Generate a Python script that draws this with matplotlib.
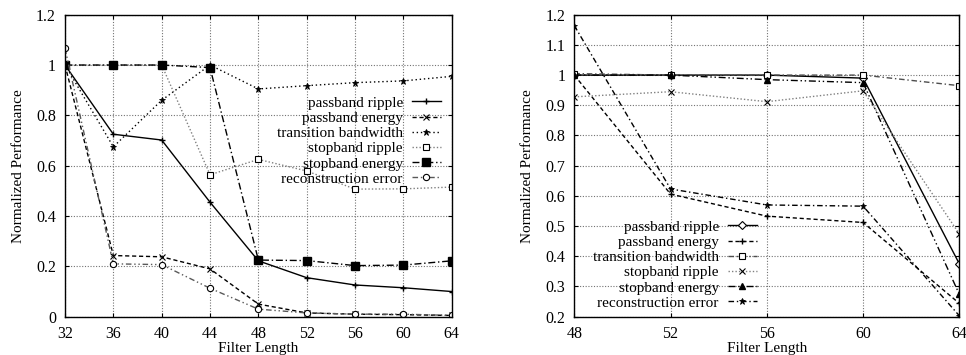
import matplotlib.pyplot as plt

plt.rcParams['font.family'] = ['Liberation Serif', 'DejaVu Serif']
plt.rcParams['font.size'] = 11

labels = ["passband ripple", "passband energy", "transition bandwidth",
          "stopband ripple", "stopband energy", "reconstruction error"]

# left panel
x_left = [32, 36, 40, 44, 48, 52, 56, 60, 64]
pb_ripple_l = [1.0, 0.725, 0.702, 0.455, 0.222, 0.155, 0.126, 0.115, 0.10]
pb_energy_l = [1.0, 0.243, 0.238, 0.19, 0.05, 0.015, 0.01, 0.008, 0.005]
trans_bw_l = [1.0, 0.675, 0.86, 1.0, 0.905, 0.918, 0.93, 0.937, 0.955]
sb_ripple_l = [1.0, 1.0, 1.0, 0.564, 0.625, 0.579, 0.507, 0.508, 0.515]
sb_energy_l = [1.0, 1.0, 1.0, 0.99, 0.225, 0.223, 0.203, 0.205, 0.222]
recon_err_l = [1.066, 0.21, 0.207, 0.113, 0.03, 0.015, 0.01, 0.01, 0.005]

# right panel
x_right = [48, 52, 56, 60, 64]
pb_ripple_r = [1.0, 1.0, 1.0, 0.99, 0.375]
pb_energy_r = [1.0, 0.606, 0.533, 0.512, 0.244]
trans_bw_r = [1.005, 1.0, 1.0, 1.0, 0.965]
sb_ripple_r = [0.928, 0.945, 0.912, 0.948, 0.474]
sb_energy_r = [1.0, 1.0, 0.985, 0.975, 0.274]
recon_err_r = [1.164, 0.623, 0.57, 0.566, 0.203]

fig = plt.figure(figsize=(9.66, 3.55), dpi=100)
ax1 = fig.add_axes([0.0673, 0.1079, 0.4003, 0.8507])
ax2 = fig.add_axes([0.5945, 0.1079, 0.3986, 0.8507])

styles_l = [
    dict(color="black", ls="-", marker="+", ms=4, mew=1.0),
    dict(color="black", ls=(0, (3, 2)), marker="x", ms=4, mew=0.8),
    dict(color="black", ls=(0, (1, 2)), marker="*", ms=5, mew=0.6),
    dict(color="0.5", ls=(0, (1, 1.5)), marker="s", ms=5, mfc="white", mec="black", mew=0.8),
    dict(color="black", ls=(0, (5, 2, 1, 2)), marker="s", ms=5.5, mfc="black", mec="black"),
    dict(color="0.35", ls=(0, (4, 2, 1, 2, 1, 2)), marker="o", ms=4.5, mfc="white", mec="black", mew=0.8),
]
series_l = [pb_ripple_l, pb_energy_l, trans_bw_l, sb_ripple_l, sb_energy_l, recon_err_l]
for y, lab, st in zip(series_l, labels, styles_l):
    ax1.plot(x_left, y, label=lab, lw=1.0, **st)

styles_r = [
    dict(color="black", ls="-", marker="D", ms=4, mfc="white", mec="black", mew=0.8),
    dict(color="black", ls=(0, (3, 2)), marker="+", ms=5, mew=1.0),
    dict(color="0.3", ls=(0, (4, 2, 1, 2)), marker="s", ms=5, mfc="white", mec="black", mew=0.8),
    dict(color="0.5", ls=(0, (1, 1.5)), marker="x", ms=4, mew=0.8, mec="black"),
    dict(color="black", ls=(0, (5, 2, 1, 2, 1, 2)), marker="^", ms=5, mfc="black"),
    dict(color="black", ls=(0, (4, 2, 1, 2)), marker="*", ms=5, mew=0.6),
]
series_r = [pb_ripple_r, pb_energy_r, trans_bw_r, sb_ripple_r, sb_energy_r, recon_err_r]
for y, lab, st in zip(series_r, labels, styles_r):
    ax2.plot(x_right, y, label=lab, lw=1.0, **st)

for ax, xs, ylim, yticks in [
    (ax1, x_left, (0, 1.2), [0, 0.2, 0.4, 0.6, 0.8, 1.0, 1.2]),
    (ax2, x_right, (0.2, 1.2), [0.2, 0.3, 0.4, 0.5, 0.6, 0.7, 0.8, 0.9, 1.0, 1.1, 1.2]),
]:
    ax.set_xlim(xs[0], xs[-1])
    ax.set_ylim(*ylim)
    ax.set_xticks(xs)
    ax.set_yticks(yticks)
    ax.set_yticklabels([("%g" % t) for t in yticks])
    ax.grid(True, color="0.45", ls=(0, (1, 1.5)), lw=0.8)
    ax.tick_params(direction="in", length=3, top=True, right=True, labelsize=11.5)
    ax.tick_params(axis="x", pad=7)
    ax.tick_params(axis="y", pad=6.5)
    for sp in ax.spines.values():
        sp.set_linewidth(1.0)
    ax.set_xlabel("Filter Length", labelpad=-0.5)
    ax.set_ylabel("Normalized Performance", labelpad=8)

legend_kw = dict(frameon=False, markerfirst=False, loc="upper right",
                 borderpad=0, borderaxespad=0, handlelength=1.9,
                 handletextpad=0.6, labelspacing=0.1, fontsize=11,
                 bbox_transform=fig.transFigure)
ax1.legend(bbox_to_anchor=(441 / 966, 1 - 96 / 355), **legend_kw)
ax2.legend(bbox_to_anchor=(757 / 966, 1 - 220 / 355), **legend_kw)

fig.savefig("out.png", dpi=100)
